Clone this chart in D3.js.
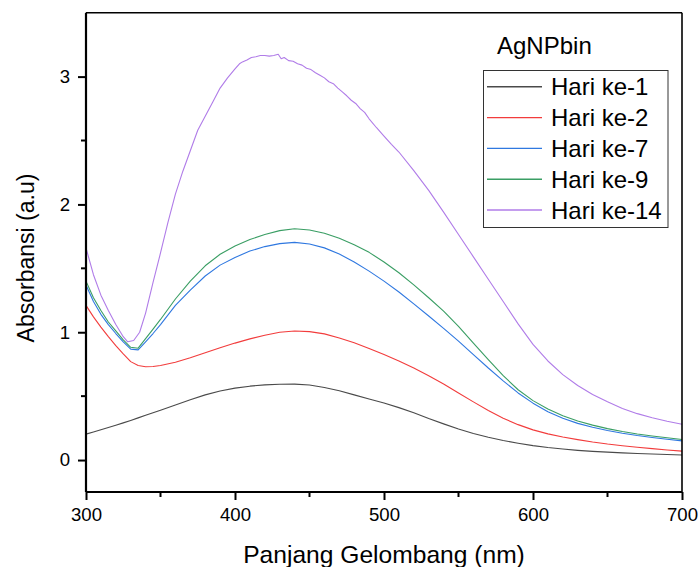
<!DOCTYPE html>
<html>
<head>
<meta charset="utf-8">
<script src="https://cdn.jsdelivr.net/npm/d3@7"></script>
<style>
  html, body { margin: 0; padding: 0; background: #fff; }
  svg { display: block; }
  text { font-family: "Liberation Sans", Arial, sans-serif; fill: #000; }
</style>
</head>
<body>
<svg id="chart" width="699" height="567"></svg>
<script>
// ---- data ----
const wl = [300,305,310,315,320,325,330,335,340,345,350,360,370,380,390,400,410,420,430,440,450,460,470,480,490,500,510,520,530,540,550,560,570,580,590,600,610,620,630,640,650,660,670,680,690,700];
const hari1 = [0.203,0.22,0.237,0.255,0.273,0.291,0.31,0.33,0.35,0.37,0.39,0.43,0.472,0.51,0.54,0.563,0.578,0.588,0.593,0.594,0.587,0.568,0.542,0.51,0.478,0.447,0.41,0.37,0.325,0.283,0.243,0.208,0.178,0.153,0.132,0.113,0.098,0.086,0.076,0.068,0.062,0.056,0.051,0.047,0.043,0.04];
const hari2 = [1.21,1.12,1.04,0.965,0.895,0.83,0.77,0.74,0.73,0.732,0.74,0.765,0.80,0.84,0.878,0.915,0.948,0.977,1.0,1.01,1.005,0.987,0.955,0.917,0.873,0.825,0.775,0.72,0.66,0.595,0.525,0.455,0.387,0.327,0.277,0.236,0.205,0.18,0.16,0.141,0.125,0.112,0.1,0.089,0.079,0.07];
const hari7 = [1.37,1.24,1.14,1.06,0.99,0.925,0.868,0.862,0.925,0.99,1.06,1.21,1.33,1.44,1.525,1.585,1.635,1.67,1.693,1.703,1.69,1.66,1.612,1.55,1.478,1.4,1.315,1.222,1.127,1.03,0.93,0.825,0.72,0.62,0.525,0.445,0.378,0.327,0.287,0.256,0.231,0.21,0.192,0.177,0.163,0.15];
const hari9 = [1.40,1.27,1.17,1.08,1.01,0.94,0.882,0.875,0.95,1.025,1.10,1.26,1.40,1.52,1.61,1.675,1.725,1.765,1.795,1.81,1.80,1.775,1.735,1.685,1.625,1.55,1.465,1.37,1.27,1.165,1.045,0.915,0.785,0.66,0.55,0.465,0.4,0.347,0.306,0.273,0.246,0.223,0.204,0.188,0.174,0.161];
const wlP = [300,305,310,315,320,325,328,332,336,340,345,350,355,360,365,370,375,380,385,390,395,400,403,405,408,411,414,417,420,423,426,429,431,433,436,439,442,445,448,451,454,457,460,463,466,469,472,475,478,481,484,487,490,495,500,505,510,520,530,540,550,560,570,580,590,600,610,620,630,640,650,660,670,680,690,700];
const hari14 = [1.66,1.45,1.29,1.17,1.06,0.965,0.925,0.935,1.0,1.15,1.39,1.62,1.86,2.08,2.26,2.42,2.58,2.69,2.80,2.91,2.99,3.06,3.10,3.115,3.13,3.15,3.155,3.165,3.165,3.16,3.165,3.175,3.14,3.15,3.125,3.12,3.10,3.09,3.065,3.055,3.03,3.01,2.99,2.96,2.945,2.91,2.88,2.85,2.815,2.79,2.75,2.72,2.67,2.6,2.535,2.47,2.41,2.265,2.11,1.94,1.765,1.59,1.415,1.24,1.065,0.905,0.775,0.668,0.583,0.513,0.456,0.404,0.363,0.331,0.303,0.28];
const seriesNames = ["Hari ke-1","Hari ke-2","Hari ke-7","Hari ke-9","Hari ke-14"];
const seriesColors = ["#4a4a4a","#f23c3c","#2f78e0","#3a9e64","#b07ce8"];
const xTicks = [300,400,500,600,700];
const xMinor = [350,450,550,650];
const yTicks = [0,1,2,3];
const yMinor = [0.5,1.5,2.5];
const legendTitle = "AgNPbin";
const xTitle = "Panjang Gelombang (nm)";
const yTitle = "Absorbansi (a.u)";

// ---- layout ----
const svg = d3.select("#chart");
const L = 86, R = 682, T = 12.7, B = 492;
const x = d3.scaleLinear().domain([300,700]).range([L,R]);
const y = d3.scaleLinear().domain([-0.25,3.5]).range([B,T]);

const series = [
  {name: seriesNames[0], xs: wl, ys: hari1},
  {name: seriesNames[1], xs: wl, ys: hari2},
  {name: seriesNames[2], xs: wl, ys: hari7},
  {name: seriesNames[3], xs: wl, ys: hari9},
  {name: seriesNames[4], xs: wlP, ys: hari14}
];

const line = d3.line().x(d => x(d[0])).y(d => y(d[1])).curve(d3.curveLinear);
const g = svg.append("g");
series.forEach((s, i) => {
  g.append("path")
    .datum(s.xs.map((v, j) => [v, s.ys[j]]))
    .attr("fill", "none")
    .attr("stroke", seriesColors[i])
    .attr("stroke-width", 1.1)
    .attr("stroke-linejoin", "round")
    .attr("d", line);
});

// frame (top/right)
svg.append("line").attr("x1", L).attr("x2", R).attr("y1", T).attr("y2", T).attr("stroke", "#000").attr("stroke-width", 1.6);
svg.append("line").attr("x1", R).attr("x2", R).attr("y1", T).attr("y2", B).attr("stroke", "#000").attr("stroke-width", 1.6);

// x axis
const xAxis = d3.axisBottom(x).tickValues(xTicks).tickSize(8).tickPadding(4).tickFormat(d3.format("d"));
const xa = svg.append("g").attr("transform", `translate(0,${B})`).call(xAxis);
xa.append("g").selectAll("line").data(xMinor).join("line")
  .attr("x1", d => x(d)).attr("x2", d => x(d)).attr("y1", 0).attr("y2", 5)
  .attr("stroke", "#000").attr("stroke-width", 2);
// y axis
const yAxis = d3.axisLeft(y).tickValues(yTicks).tickSize(8).tickPadding(8).tickFormat(d3.format("d"));
const ya = svg.append("g").attr("transform", `translate(${L},0)`).call(yAxis);
ya.append("g").selectAll("line").data(yMinor).join("line")
  .attr("x1", 0).attr("x2", -5).attr("y1", d => y(d)).attr("y2", d => y(d))
  .attr("stroke", "#000").attr("stroke-width", 2);

[xa, ya].forEach(a => {
  a.select(".domain").attr("stroke", "#000").attr("stroke-width", 2.2);
  a.selectAll(".tick line").attr("stroke", "#000").attr("stroke-width", 2);
  a.selectAll(".tick text").attr("font-size", 18.6).attr("font-family", "Liberation Sans, Arial, sans-serif").attr("fill", "#000");
});
xa.select(".domain").attr("d", `M${L},0H${R}`);
ya.select(".domain").attr("d", `M0,${B}V${T}`);
xa.selectAll(".tick text").attr("dy", "0.92em");

// axis titles
svg.append("text").attr("x", (243 + 525) / 2).attr("y", 562.5).attr("text-anchor", "middle")
  .attr("font-size", 24.6).text(xTitle);
svg.append("text").attr("transform", `translate(34,258) rotate(-90)`).attr("text-anchor", "middle")
  .attr("font-size", 23).text(yTitle);

// legend
svg.append("text").attr("x", 497).attr("y", 54).attr("font-size", 24).text(legendTitle);
svg.append("rect").attr("x", 483.5).attr("y", 70.5).attr("width", 184.5).attr("height", 157)
  .attr("fill", "#fff").attr("stroke", "#333").attr("stroke-width", 1);
series.forEach((s, i) => {
  const ly = 86.8 + i * 30.8;
  svg.append("line").attr("x1", 487).attr("x2", 542).attr("y1", ly).attr("y2", ly)
    .attr("stroke", seriesColors[i]).attr("stroke-width", 1.4);
  svg.append("text").attr("x", 551).attr("y", ly + 8.6).attr("font-size", 24).text(s.name);
});
</script>
</body>
</html>
